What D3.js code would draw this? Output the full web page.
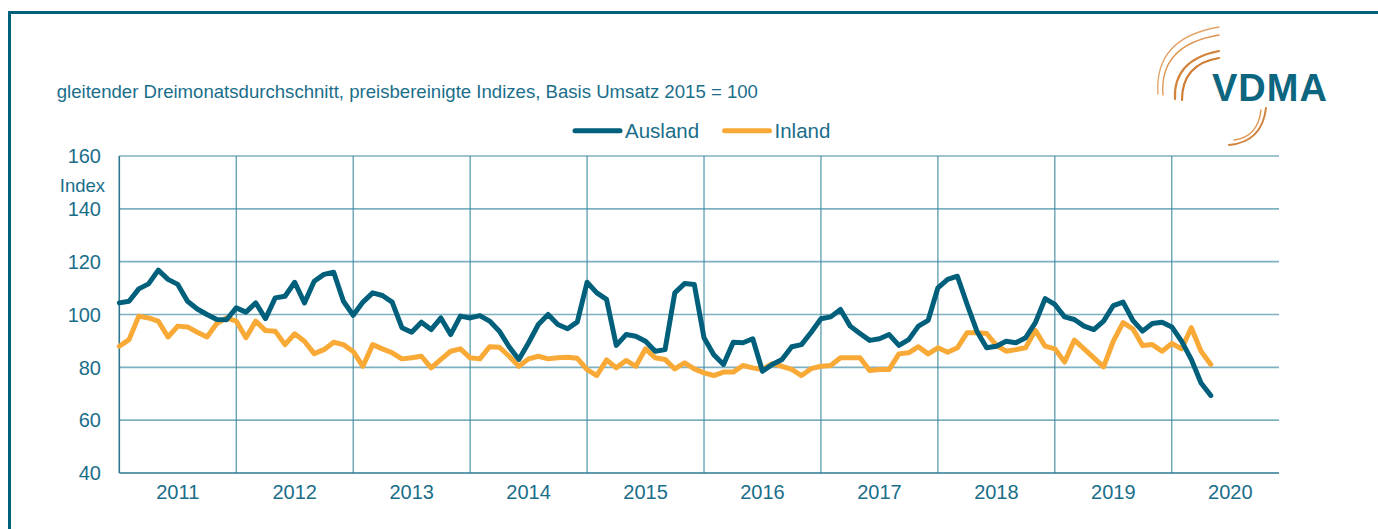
<!DOCTYPE html>
<html>
<head>
<meta charset="utf-8">
<script src="https://cdn.jsdelivr.net/npm/d3@7"></script>
<style>
  body { margin: 0; background: #fff; }
  svg text { font-family: "Liberation Sans", Arial, sans-serif; fill: #1a6e8a; }
</style>
</head>
<body>
<div id="chart"></div>
<script>
// monthly values, Jan 2011 .. May 2020
var years = ["2011", "2012", "2013", "2014", "2015", "2016", "2017", "2018", "2019", "2020"];
var yTicks = [40, 60, 80, 100, 120, 140, 160];

var ausland = [
  104.4, 105, 109.7, 111.6, 116.8, 113.3, 111.4, 105, 102.1, 100, 98.1, 98,
  102.5, 100.9, 104.4, 98.4, 106.3, 106.9, 112.2, 104.4, 112.6, 115.2, 116, 105,
  99.7, 104.7, 108.2, 107.2, 104.7, 95, 93.3, 97.1, 94.3, 98.7, 92.4, 99.4,
  98.7, 99.6, 97.5, 93.7, 87.8, 83, 89.3, 96.2, 100, 96.2, 94.6, 97.2,
  112.2, 108.2, 105.7, 88.3, 92.4, 91.8, 89.9, 86.1, 86.7, 108.2, 111.7, 111.4,
  91.2, 84.8, 81.1, 89.5, 89.3, 90.8, 78.5, 81.1, 83, 87.8, 88.6, 93.3,
  98.4, 99.1, 101.9, 95.6, 92.8, 90.2, 90.8, 92.4, 88.3, 90.5, 95.6, 97.8,
  110.1, 113.3, 114.5, 103.8, 93.7, 87.4, 88, 89.9, 89.3, 91.2, 96.9, 106,
  103.8, 99.1, 98.1, 95.6, 94.3, 97.5, 103.4, 104.7, 97.8, 93.7, 96.6, 97.1,
  95.3, 89.9, 83, 74.1, 69.3
];

var inland = [
  88, 90.5, 99.4, 98.7, 97.5, 91.5, 95.6, 95.3, 93.3, 91.5, 96.6, 98.7,
  97.5, 91.2, 97.5, 93.9, 93.7, 88.6, 92.7, 89.9, 85.2, 86.7, 89.5, 88.6,
  86, 80.4, 88.6, 87, 85.5, 83.2, 83.6, 84.2, 79.8, 83, 86.1, 87,
  83.6, 83.2, 87.8, 87.6, 84.2, 80.4, 83.2, 84.2, 83.2, 83.6, 83.8, 83.4,
  79.1, 76.9, 82.8, 79.8, 82.6, 80.4, 87, 83.6, 83, 79.4, 81.7, 79.4,
  77.9, 76.9, 78.2, 78.2, 80.7, 79.8, 79.2, 81.4, 80.4, 79.2, 76.9, 79.5,
  80.4, 80.7, 83.6, 83.6, 83.6, 78.8, 79.2, 79.2, 85.1, 85.5, 87.8, 85.1,
  87.4, 85.7, 87.4, 93.1, 93.1, 92.8, 88.3, 86.1, 86.7, 87.4, 94, 88,
  87, 82, 90.3, 87, 83.6, 80.2, 89.9, 96.9, 94.6, 88.3, 88.6, 86.1,
  89, 87, 95, 86.1, 81.1
];

var blue = "#005f7b", orange = "#f8a936", grid = "#7eb0c0", axisCol = "#2d7891";

var W = 1378, H = 529;
var svg = d3.select("#chart").append("svg").attr("width", W).attr("height", H);

// frame
svg.append("path").attr("d", "M9.5," + H + "V12.5H" + W)
  .attr("fill", "none").attr("stroke", "#00617d").attr("stroke-width", 3);

var x = d3.scaleLinear().domain([0, years.length * 12 - 1]).range([119.3, 1279]);
var y = d3.scaleLinear().domain([40, 160]).range([473, 156]);

// horizontal grid
svg.append("g").selectAll("line").data(yTicks.filter(d => d > 40)).enter().append("line")
  .attr("x1", x(0)).attr("x2", x.range()[1])
  .attr("y1", d => y(d)).attr("y2", d => y(d))
  .attr("stroke", grid).attr("stroke-width", 1.6);

// year separators
svg.append("g").selectAll("line").data(d3.range(1, years.length)).enter().append("line")
  .attr("x1", d => x(d * 12)).attr("x2", d => x(d * 12))
  .attr("y1", y(160)).attr("y2", y(40))
  .attr("stroke", "#3f8aa2").attr("stroke-width", 1.1);

// axes lines
svg.append("line").attr("x1", x(0)).attr("x2", x(0)).attr("y1", y(160)).attr("y2", y(40))
  .attr("stroke", axisCol).attr("stroke-width", 1.6);
svg.append("line").attr("x1", x(0)).attr("x2", x.range()[1]).attr("y1", y(40)).attr("y2", y(40))
  .attr("stroke", axisCol).attr("stroke-width", 1.6);

// y labels
svg.append("g").selectAll("text").data(yTicks).enter().append("text")
  .attr("x", 101).attr("y", d => y(d)).attr("dy", "0.36em")
  .attr("text-anchor", "end").style("font-size", "20px").text(d => d);

svg.append("text").attr("x", 82.5).attr("y", 185.5).attr("dy", "0.36em")
  .attr("text-anchor", "middle").style("font-size", "18.5px").text("Index");

// year labels
svg.append("g").selectAll("text").data(years).enter().append("text")
  .attr("x", (d, i) => x(i * 12 + 6)).attr("y", 499.3)
  .attr("text-anchor", "middle").style("font-size", "20px").text(d => d);

// lines
var line = d3.line().x((d, i) => x(i)).y(d => y(d));
svg.append("path").datum(inland).attr("d", line)
  .attr("fill", "none").attr("stroke", orange).attr("stroke-width", 5)
  .attr("stroke-linejoin", "round").attr("stroke-linecap", "round");
svg.append("path").datum(ausland).attr("d", line)
  .attr("fill", "none").attr("stroke", blue).attr("stroke-width", 5)
  .attr("stroke-linejoin", "round").attr("stroke-linecap", "round");

// subtitle
svg.append("text").attr("x", 56.7).attr("y", 98.3)
  .style("font-size", "18.6px").text("gleitender Dreimonatsdurchschnitt, preisbereinigte Indizes, Basis Umsatz 2015 = 100");

// legend
var legend = [["Ausland", blue, 575], ["Inland", orange, 724.5]];
legend.forEach(function (l) {
  svg.append("line").attr("x1", l[2]).attr("x2", l[2] + 45).attr("y1", 130.7).attr("y2", 130.7)
    .attr("stroke", l[1]).attr("stroke-width", 5).attr("stroke-linecap", "round");
  svg.append("text").attr("x", l[2] + 50).attr("y", 130.5).attr("dy", "0.36em")
    .style("font-size", "20.5px").text(l[0]);
});

// logo
var logo = svg.append("g");
var arcs = [
  ["M1158,94 Q1154,38 1219,27", 1.3, "#e2a36a"],
  ["M1163,95 Q1159,45 1219,35", 1.3, "#dc944f"],
  ["M1175,99 Q1173,60 1219,51", 2.2, "#d3823b"],
  ["M1182,100 Q1182,64 1219,58", 2.2, "#cf7c34"],
  ["M1229,145 Q1262,142 1266,108", 2, "#d3823b"],
  ["M1234,140 Q1258,137 1261,110", 1.4, "#dc944f"]
];
logo.selectAll("path").data(arcs).enter().append("path")
  .attr("d", d => d[0]).attr("fill", "none")
  .attr("stroke", d => d[2]).attr("stroke-width", d => d[1]).attr("stroke-linecap", "round");
logo.append("text").attr("x", 1212).attr("y", 101)
  .style("font-size", "38px").style("font-weight", "bold").style("fill", "#0d6680")
  .style("letter-spacing", "1px").text("VDMA");
</script>
</body>
</html>
